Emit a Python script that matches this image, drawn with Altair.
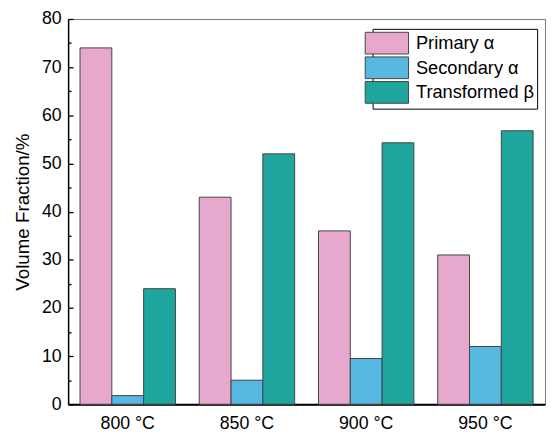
import altair as alt
import pandas as pd

temps = ["800 °C", "850 °C", "900 °C", "950 °C"]
series = ["Primary α", "Secondary α", "Transformed β"]
primary = [74, 43, 36, 31]
secondary = [1.8, 5, 9.5, 12]
transformed = [24, 52, 54.3, 56.8]
colors = ["#E6A8CC", "#56B8E0", "#1DA59E"]
major_ticks = [0, 10, 20, 30, 40, 50, 60, 70, 80]
minor_ticks = [5, 15, 25, 35, 45, 55, 65, 75]

rows = []
for name, vals in zip(series, [primary, secondary, transformed]):
    for t, v in zip(temps, vals):
        rows.append({"temp": t, "series": name, "value": v})
df = pd.DataFrame(rows)

yscale = alt.Scale(domain=[0, 80], nice=False, zero=True)

bars = alt.Chart(df).mark_bar(stroke="#444", strokeWidth=1).encode(
    x=alt.X("temp:N", sort=temps,
            scale=alt.Scale(paddingInner=0.2, paddingOuter=0.1),
            axis=alt.Axis(title=None, labelAngle=0, ticks=False, labelFontSize=18,
                          labelPadding=11, domainColor="black", domainWidth=2,
                          labelColor="black")),
    xOffset=alt.XOffset("series:N", sort=series,
                        scale=alt.Scale(paddingInner=0, paddingOuter=0)),
    y=alt.Y("value:Q", scale=yscale,
            axis=alt.Axis(title="Volume Fraction/%", values=major_ticks, ticks=False,
                          labelFontSize=18, labelPadding=7, labelColor="black",
                          titleFontSize=19, titleFontWeight="normal", titleColor="black",
                          titlePadding=9, domainColor="black", domainWidth=1.5,
                          grid=False)),
    color=alt.Color("series:N", sort=series,
                    scale=alt.Scale(domain=series, range=colors),
                    legend=alt.Legend(orient="none", legendX=309, legendY=10, title=None,
                                      symbolType="M-2,-1H2V1H-2Z", symbolSize=484,
                                      symbolStrokeColor="#444", symbolStrokeWidth=1,
                                      symbolOpacity=1,
                                      labelFontSize=18.5, labelOffset=18, labelColor="black",
                                      padding=3, strokeColor="black", fillColor="white",
                                      rowPadding=-2)),
)

major = alt.Chart(pd.DataFrame({"value": major_ticks})).mark_rule(opacity=0).encode(
    y=alt.Y("value:Q", scale=yscale,
            axis=alt.Axis(orient="right", offset=-484, labels=False, domain=False,
                          title=None, values=major_ticks, tickSize=5, tickColor="black",
                          tickWidth=1.3, grid=False)),
    x=alt.value(0), x2=alt.value(5))

minor = alt.Chart(pd.DataFrame({"value": minor_ticks})).mark_rule(opacity=0).encode(
    y=alt.Y("value:Q", scale=yscale,
            axis=alt.Axis(orient="right", offset=-484, labels=False, domain=False,
                          title=None, values=minor_ticks, tickSize=3, tickColor="black",
                          tickWidth=1.3, grid=False)),
    x=alt.value(0), x2=alt.value(3))

chart = alt.layer(bars, major, minor).resolve_axis(y="independent").properties(
    width=484, height=391,
    autosize=alt.AutoSizeParams(type="none"),
    padding={"left": 61, "top": 8, "right": 2, "bottom": 27},
).configure(font="Liberation Sans").configure_view(stroke="#777", strokeWidth=1)

chart.save("out.html", embed_options={"renderer": "svg", "actions": False})
